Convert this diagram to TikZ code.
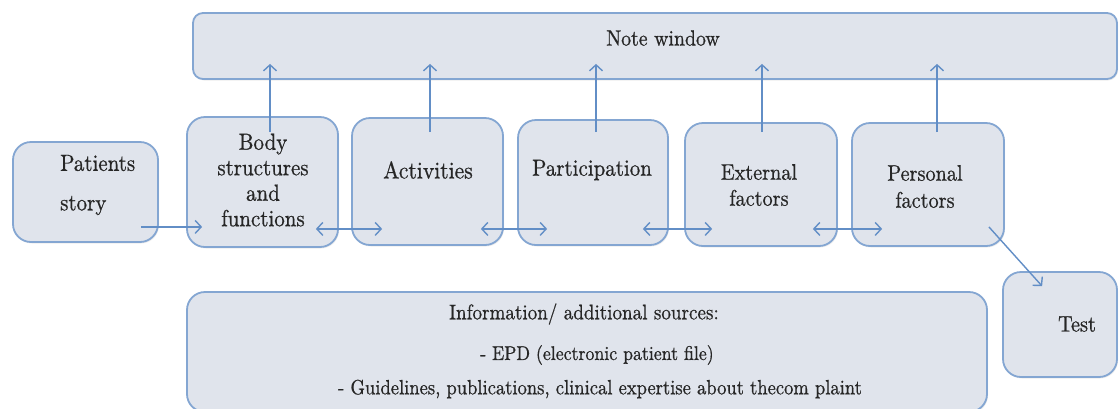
\documentclass[tikz,border=0pt]{standalone}
\usepackage{fontspec}
\newfontfamily\heavy{lmroman10-regular.otf}[FakeBold=0.7, FakeStretch=0.9]
\usetikzlibrary{arrows.meta,calc,shadows}
\definecolor{boxfill}{RGB}{224,228,236}
\definecolor{boxline}{RGB}{132,166,210}
\definecolor{arrline}{RGB}{98,142,198}
\begin{document}
\begin{tikzpicture}[x=1pt,y=-1pt,
  box/.style={draw=boxline, fill=boxfill, line width=1.8pt, rounded corners=18pt, inner sep=0pt,
    drop shadow={opacity=0.15, shadow xshift=1pt, shadow yshift=-1.5pt}},
  txt/.style={font=\heavy\fontsize{23.3}{25.5}\selectfont, text=black!85, align=center, inner sep=0pt},
  itxt/.style={font=\heavy\fontsize{20.2}{24}\selectfont, text=black!85, inner sep=0pt},
  arr/.style={draw=arrline, line width=1.4pt, -{Straight Barb[length=6pt,width=13pt,line width=1.4pt]}},
  darr/.style={draw=arrline, line width=1.4pt, {Straight Barb[length=6pt,width=13pt,line width=1.4pt]}-{Straight Barb[length=6pt,width=13pt,line width=1.4pt]}}]
\useasboundingbox (0,0) rectangle (1120,408);
% boxes
\node[box, rounded corners=10pt, minimum width=924pt, minimum height=66pt] (note) at (655,46) {};
\node[box, minimum width=145pt, minimum height=100pt] (pat) at (85.5,192) {};
\node[box, minimum width=151pt, minimum height=130pt] (body) at (262.5,182) {};
\node[box, minimum width=151pt, minimum height=127pt] (act) at (427.5,181.5) {};
\node[box, minimum width=150pt, minimum height=125pt] (part) at (593,182.5) {};
\node[box, minimum width=152pt, minimum height=123pt] (ext) at (761,184.5) {};
\node[box, minimum width=152pt, minimum height=123pt] (pers) at (928,184.5) {};
\node[box, minimum width=114pt, minimum height=105pt] (test) at (1060,324.5) {};
\node[box, minimum width=800pt, minimum height=120pt] (info) at (587,352) {};
% texts
\node[itxt, font=\heavy\fontsize{22}{24}\selectfont] (tnote) at (663,38) {Note window};
\node[txt, align=left, anchor=west] (tpat) at (60,185) {Patients\\[14pt]story};
\node[txt] (tbody) at (263,180) {Body\\structures\\and\\functions};
\node[txt, font=\heavy\fontsize{24}{25.5}\selectfont] (tact) at (428,170) {Activities};
\node[txt] (tpart) at (592,170) {Participation};
\node[txt, font=\heavy\fontsize{22.5}{26}\selectfont] (text) at (759,185) {External\\factors};
\node[txt, font=\heavy\fontsize{22.5}{27}\selectfont] (tpers) at (925,186.5) {Personal\\factors};
\node[txt, font=\heavy\fontsize{22.5}{25}\selectfont] (ttest) at (1077,324) {Test};
\node[itxt, font=\heavy\fontsize{21.2}{24}\selectfont] (tinfo) at (584,314) {Information/ additional sources:};
\node[itxt, font=\heavy\fontsize{19.8}{24}\selectfont] (tepd) at (597,355) {- EPD (electronic patient file)};
\node[itxt, font=\heavy\fontsize{20.6}{24}\selectfont] (tguide) at (600,389) {- Guidelines, publications, clinical expertise about thecom plaint};
% vertical connectors into the note window
\coordinate (nt) at ($(note.south)+(0,-16)$);
\coordinate (v1) at ($(body.north)+(7.5,16)$);
\coordinate (v2) at ($(act.north)+(2.5,15)$);
\coordinate (v3) at ($(part.north)+(3,13)$);
\coordinate (v4) at ($(ext.north)+(1,10)$);
\coordinate (v5) at ($(pers.north)+(9,10)$);
\foreach \v in {v1,v2,v3,v4,v5}{\draw[arr] (\v) -- (\v |- nt);}
% horizontal connectors
\draw[arr] ($(pat.south east)+(-18,-16)$) -- ($(body.south west)+(16,-21)$);
\draw[darr] ($(body.south east)+(-23,-19)$) -- ($(act.south west)+(31,-17)$);
\draw[darr] ($(act.south east)+(-23,-17)$) -- ($(part.south west)+(30,-17)$);
\draw[darr] ($(part.south east)+(-26,-17)$) -- ($(ext.south west)+(28,-18)$);
\draw[darr] ($(ext.south east)+(-25,-18)$) -- ($(pers.south west)+(31,-18)$);
\draw[arr] ($(pers.south east)+(-16,-20)$) -- ($(test.north west)+(40,15)$);
\end{tikzpicture}
\end{document}
